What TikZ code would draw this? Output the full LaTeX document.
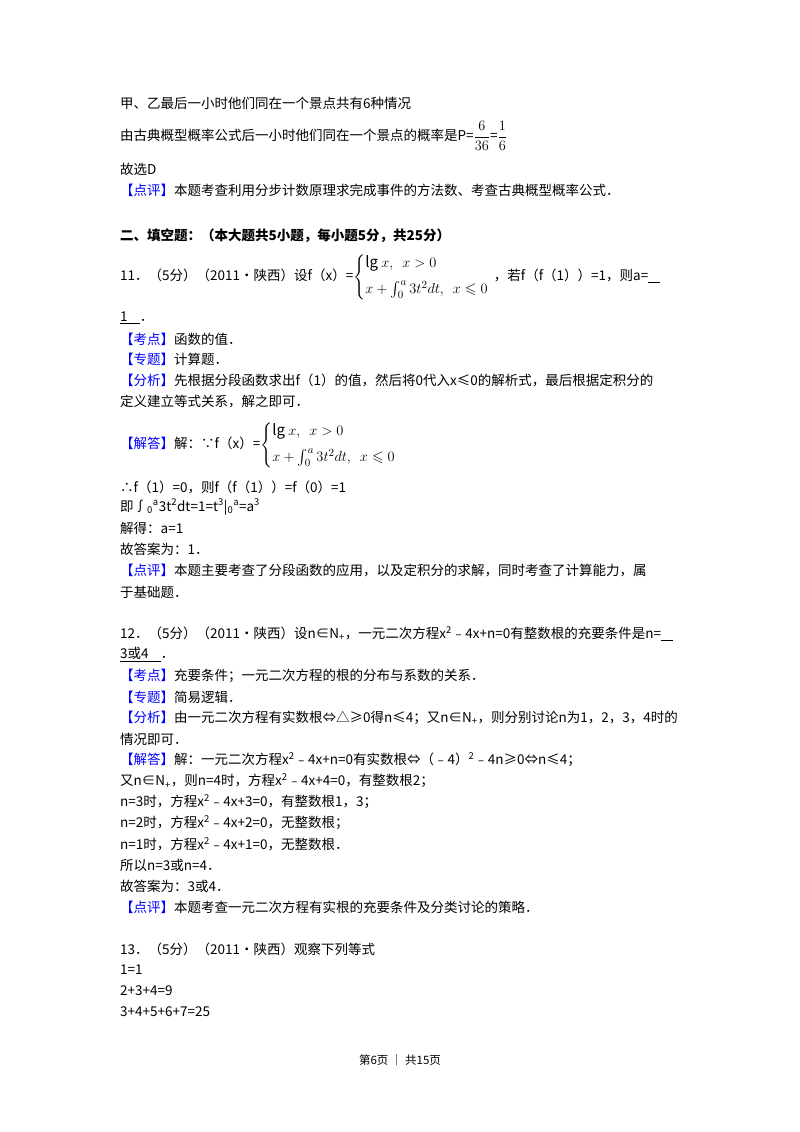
\documentclass[tikz,border=0pt]{standalone}
\usepackage{amssymb}
\usepackage{fontspec}
\setmainfont{Noto Sans CJK SC}
\newcommand{\tag}[1]{\textcolor{blue}{【#1】}}
\newcommand{\sps}[1]{\textsuperscript{#1}}
\newcommand{\sbs}[1]{\textsubscript{#1}}
\newcommand{\pw}{{\fontsize{15}{16}\selectfont$\left\{\begin{array}{@{}l}\mathrm{lg}\ x,\ \ x>0\\[9pt] x+\int_0^a 3t^2dt,\ \ x\leqslant 0\end{array}\right.$}}
\begin{document}
\begin{tikzpicture}[x=1pt,y=-1pt,
  ln/.style={anchor=west,inner sep=0pt,font=\fontsize{13.5}{14}\selectfont}]
\useasboundingbox[fill=white] (0,0) rectangle (800,1132);
\node[ln] (l1) at (120,103) {甲、乙最后一小时他们同在一个景点共有6种情况};
\node[ln] (l2) at (120,136) {由古典概型概率公式后一小时他们同在一个景点的概率是P=$\displaystyle\frac{6}{36}$=$\displaystyle\frac{1}{6}$};
\node[ln] (l3) at (120,169) {故选D};
\node[ln] (l4) at (120,190) {\tag{点评}本题考查利用分步计数原理求完成事件的方法数、考查古典概型概率公式．};
\node[ln,font=\fontsize{13.5}{14}\selectfont\bfseries] (l5) at (120,236) {二、填空题：（本大题共5小题，每小题5分，共25分）};
\node[ln] (l6) at (120,277) {11．（5分）（2011•陕西）设f（x）=\pw，若f（f（1））=1，则a=\underline{\ \ \ \ }};
\node[ln] (l7) at (120,318) {\underline{1\ \ \ \ }．};
\node[ln] (l8) at (120,339) {\tag{考点}函数的值．};
\node[ln] (l9) at (120,359) {\tag{专题}计算题．};
\node[ln] (l10) at (120,380) {\tag{分析}先根据分段函数求出f（1）的值，然后将0代入x≤0的解析式，最后根据定积分的};
\node[ln] (l11) at (120,402) {定义建立等式关系，解之即可．};
\node[ln] (l12) at (120,445) {\tag{解答}解：∵f（x）=\pw};
\node[ln] (l13) at (120,487) {∴f（1）=0，则f（f（1））=f（0）=1};
\node[ln] (l14) at (120,507) {即∫\sbs{0}\sps{a}3t\sps{2}dt=1=t\sps{3}|\sbs{0}\sps{a}=a\sps{3}};
\node[ln] (l15) at (120,528) {解得：a=1};
\node[ln] (l16) at (120,549) {故答案为：1．};
\node[ln] (l17) at (120,570) {\tag{点评}本题主要考查了分段函数的应用，以及定积分的求解，同时考查了计算能力，属};
\node[ln] (l18) at (120,592) {于基础题．};
\node[ln] (l19) at (120,634) {12．（5分）（2011•陕西）设n∈N\sbs{+}，一元二次方程x\sps{2}﹣4x+n=0有整数根的充要条件是n=\underline{\ \ \ \ }};
\node[ln] (l20) at (120,655) {\underline{3或4\ \ \ \ }．};
\node[ln] (l21) at (120,676) {\tag{考点}充要条件；一元二次方程的根的分布与系数的关系．};
\node[ln] (l22) at (120,697) {\tag{专题}简易逻辑．};
\node[ln] (l23) at (120,718) {\tag{分析}由一元二次方程有实数根⇔△≥0得n≤4；又n∈N\sbs{+}，则分别讨论n为1，2，3，4时的};
\node[ln] (l24) at (120,739) {情况即可．};
\node[ln] (l25) at (120,760) {\tag{解答}解：一元二次方程x\sps{2}﹣4x+n=0有实数根⇔（﹣4）\sps{2}﹣4n≥0⇔n≤4；};
\node[ln] (l26) at (120,781) {又n∈N\sbs{+}，则n=4时，方程x\sps{2}﹣4x+4=0，有整数根2；};
\node[ln] (l27) at (120,802) {n=3时，方程x\sps{2}﹣4x+3=0，有整数根1，3；};
\node[ln] (l28) at (120,823) {n=2时，方程x\sps{2}﹣4x+2=0，无整数根；};
\node[ln] (l29) at (120,844) {n=1时，方程x\sps{2}﹣4x+1=0，无整数根．};
\node[ln] (l30) at (120,865) {所以n=3或n=4．};
\node[ln] (l31) at (120,886) {故答案为：3或4．};
\node[ln] (l32) at (120,907) {\tag{点评}本题考查一元二次方程有实根的充要条件及分类讨论的策略．};
\node[ln] (l33) at (120,949) {13．（5分）（2011•陕西）观察下列等式};
\node[ln] (l34) at (120,970) {1=1};
\node[ln] (l35) at (120,991) {2+3+4=9};
\node[ln] (l36) at (120,1012) {3+4+5+6+7=25};
\node[inner sep=0pt,font=\fontsize{11.5}{12}\selectfont] (ft) at (400,1060) {第6页 ｜ 共15页};
\end{tikzpicture}
\end{document}
